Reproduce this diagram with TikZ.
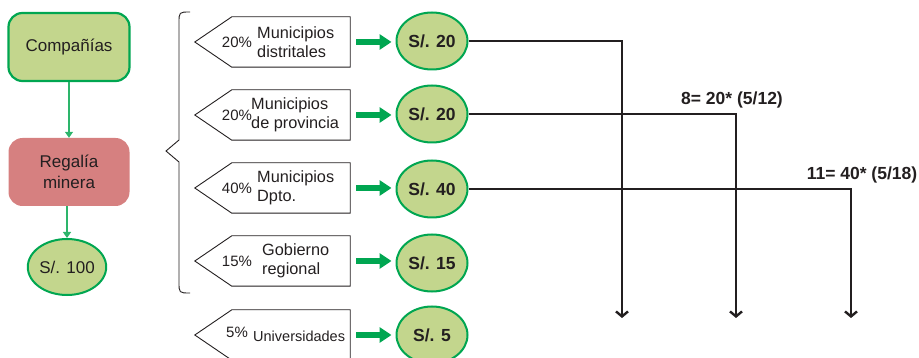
\documentclass[tikz,border=0pt]{standalone}
\usepackage{fontspec}
\setmainfont{Liberation Sans}
\usetikzlibrary{arrows.meta,shapes.geometric}
\definecolor{gfill}{RGB}{195,214,141}
\definecolor{gline}{RGB}{0,166,81}
\definecolor{rfill}{RGB}{214,128,128}
\definecolor{ink}{RGB}{35,31,32}
\definecolor{tarrow}{RGB}{45,181,107}
\tikzset{
 flowbox/.style={rounded corners=14pt, minimum width=121pt, minimum height=68pt, align=center, font=\fontsize{17}{20.5}\selectfont, text=ink},
 money/.style={ellipse, draw=gline, line width=2pt, fill=gfill, minimum width=71pt, minimum height=57pt, inner sep=0pt, font=\bfseries\fontsize{17.5}{20}\selectfont, text=ink},
 tag/.style={minimum width=118pt, minimum height=50pt, inner sep=0pt},
 tagline/.style={draw=ink, line width=0.9pt},
 pct/.style={font=\fontsize{15}{17}\selectfont, text=ink},
 who/.style={font=\fontsize{16.3}{18.5}\selectfont, text=ink, align=left, anchor=west, inner sep=0pt},
 bigarrow/.style={draw=gline, line width=5.5pt, -{Triangle[length=12pt,width=15pt]}},
 thinarrow/.style={draw=tarrow, line width=1.4pt, -{Triangle[length=6pt,width=8pt]}},
 flow/.style={draw=ink, line width=1.1pt, -{Straight Barb[length=5pt,width=12pt,line width=2.4pt]}},
 note/.style={font=\bfseries\fontsize{17.5}{20}\selectfont, text=ink},
}
\begin{document}
\begin{tikzpicture}[x=1pt,y=-1pt]
\useasboundingbox (0,0) rectangle (919,358);

% left column
\node[flowbox, draw=gline, line width=2.2pt, fill=gfill] (comp) at (69,47) {Compañías};
\node[flowbox, fill=rfill] (reg) at (69,172) {Regalía\\minera};
\node[ellipse, draw=gline, line width=2pt, fill=gfill, minimum width=69pt, minimum height=56pt, inner sep=0pt, font=\fontsize{17}{20}\selectfont, text=ink] (cien) at (67,267) {S/. 100};
\draw[thinarrow] (comp) -- (reg);
\draw[thinarrow] (reg.south -| cien.north) -- (cien);

% brace
\draw[ink, line width=0.9pt] (190,12) .. controls (179,12) .. (179,23) -- (179,140) -- (166,151) -- (179,162) -- (179,282) .. controls (179,293) .. (190,293);

% tags
\node[tag] (t1) at (291,42) {};
\node[tag] (t2) at (291,115) {};
\node[tag] (t3) at (291,188) {};
\node[tag] (t4) at (291,261) {};
\node[tag] (t5) at (291,335) {};
\foreach \t in {t1,t2,t3,t4,t5}{
 \draw[tagline] (\t.north east) -- (\t.north west) -- ([xshift=-37pt]\t.west) -- (\t.south west) -- (\t.south east) -- cycle;
}
\node[pct] (p1) at (237,42) {20\%};
\node[who] (w1) at (257,42) {Municipios\\distritales};
\node[pct] (p2) at (237,115) {20\%};
\node[who] (w2) at (251,115) {Municipios\\de provincia};
\node[pct] (p3) at (237,188) {40\%};
\node[who] (w3) at (257,188) {Municipios\\Dpto.};
\node[pct] (p4) at (237,261) {15\%};
\node[who] (w4) at (262,261) {Gobierno\\regional};
\node[pct] (p5) at (237,332) {5\%};
\node[who, font=\fontsize{14.5}{17}\selectfont] (w5) at (253,336) {Universidades};

% amounts
\node[money] (e1) at (432,41) {S/. 20};
\node[money] (e2) at (432,114) {S/. 20};
\node[money] (e3) at (432,189) {S/. 40};
\node[money] (e4) at (432,263) {S/. 15};
\node[money] (e5) at (432,335) {S/. 5};
\foreach \i in {1,...,5}{
 \draw[bigarrow, shorten <=6pt, shorten >=4pt] (t\i.east) -- (t\i.east -| e\i.west);
}

% flows
\coordinate (d1) at (622,318);
\coordinate (d2) at (736,318);
\coordinate (d3) at (851,318);
\draw[flow] (e1.east) -| (d1);
\draw[flow] (e2.east) -| (d2);
\draw[flow] (e3.east) -| (d3);
\node[note] (n1) at (732,100) {8= 20* (5/12)};
\node[note] (n2) at (862,175) {11= 40* (5/18)};
\end{tikzpicture}
\end{document}
